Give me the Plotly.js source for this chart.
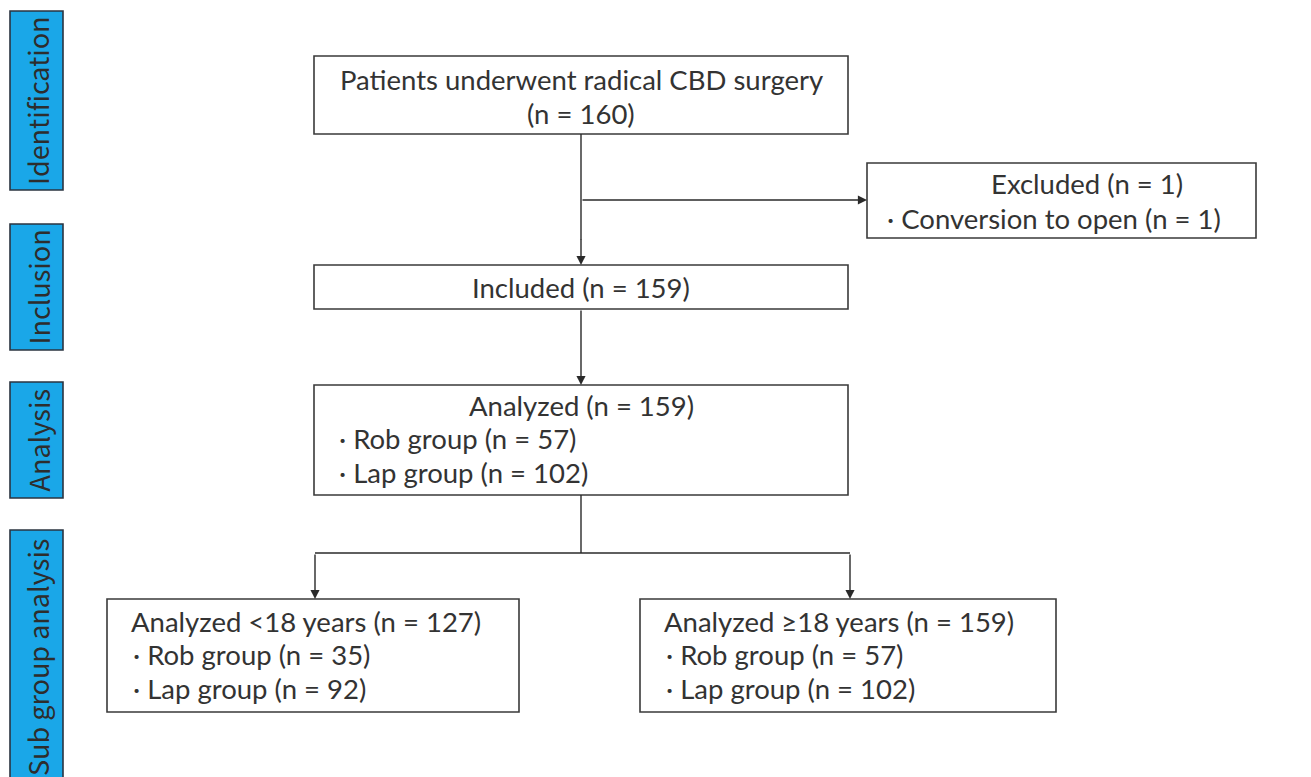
<!DOCTYPE html>
<html>
<head>
<meta charset="utf-8">
<script src="https://cdn.plot.ly/plotly-3.0.1.min.js"></script>
<style>html,body{margin:0;padding:0;background:#fff;}#chart{width:1311px;height:777px;}</style>
</head>
<body>
<div id="chart"></div>
<script>
// ---- content (values) ----
const stageLabels = ["Identification", "Inclusion", "Analysis", "Sub group analysis"];
const totalPatients = 160;
const excludedReasons = ["Conversion to open"];
const excludedCounts = [1];
const includedCount = 159;
const analyzedGroups = ["Rob group", "Lap group"];
const analyzedCounts = [57, 102];
const subgroupTitles = ["Analyzed &lt;18 years", "Analyzed ≥18 years"];
const subgroupTotals = [127, 159];
const subgroupRob = [35, 57];
const subgroupLap = [92, 102];

// ---- layout geometry (pixels) ----
const stageBoxes = [[10, 11, 63, 190], [10, 224, 63, 350], [10, 382, 63, 498], [10, 530, 63, 790]];
const mainX = [314, 848];
const topBox = [56, 134];
const exclBox = [867, 163, 1256, 238];
const inclBox = [265, 309];
const anaBox = [385, 495];
const subBoxes = [[107, 599, 519, 712], [640, 599, 1056, 712]];
const cx = 581;

const FONT = "Lato, Noto Sans, Noto Sans CJK JP, sans-serif";
const SIDEFONT = "Noto Sans CJK JP, Noto Sans, sans-serif";
const TXT = "#333333";
const FS = 27.5;
const shapes = [];
const ann = [];

function rect(x0, y0, x1, y1, fill, lc) {
  shapes.push({type: "rect", xref: "x", yref: "y", x0, y0, x1, y1,
    line: {color: lc || "#3a3a3a", width: 1.6}, fillcolor: fill || "#ffffff", layer: "below"});
}
function line(x0, y0, x1, y1) {
  shapes.push({type: "line", xref: "x", yref: "y", x0, y0, x1, y1, line: {color: "#2a2a2a", width: 1.4}});
}
function arrow(x0, y0, x1, y1) {
  ann.push({x: x1, y: y1, ax: x0, ay: y0, xref: "x", yref: "y", axref: "x", ayref: "y",
    showarrow: true, arrowhead: 2, arrowsize: 1.3, arrowwidth: 1.4, arrowcolor: "#2a2a2a", text: ""});
}
function text(x, y, t, anchor, size, angle, color, family) {
  ann.push({x, y, xref: "x", yref: "y", text: t, showarrow: false,
    xanchor: anchor || "center", yanchor: "middle", align: anchor === "left" ? "left" : "center",
    textangle: angle || 0,
    font: {family: family || FONT, size: size || FS, color: color || TXT}});
}

// stage side labels
stageBoxes.forEach((b, i) => {
  rect(b[0], b[1], b[2], b[3], "#1aa7e8", "#2b3440");
  const yc = i === 3 ? (b[1] + 777) / 2 + 4 : (b[1] + b[3]) / 2;
  text((b[0] + b[2]) / 2 + 1, yc, stageLabels[i], "center", 27, -90, "#2d2d2d", SIDEFONT);
});

// top box
rect(mainX[0], topBox[0], mainX[1], topBox[1]);
text((mainX[0] + mainX[1]) / 2, 79, "Patients underwent radical CBD surgery", "center");
text((mainX[0] + mainX[1]) / 2, 113, "(n = " + totalPatients + ")", "center");

// excluded
rect(exclBox[0], exclBox[1], exclBox[2], exclBox[3]);
const exclTotal = excludedCounts.reduce((a, b) => a + b, 0);
text(1087, 183, "Excluded (n = " + exclTotal + ")", "center");
text(885, 218, "· " + excludedReasons[0] + " (n = " + excludedCounts[0] + ")", "left");

// included
rect(mainX[0], inclBox[0], mainX[1], inclBox[1]);
text((mainX[0] + mainX[1]) / 2, 287, "Included (n = " + includedCount + ")", "center");

// analyzed
rect(mainX[0], anaBox[0], mainX[1], anaBox[1]);
text((mainX[0] + mainX[1]) / 2, 405, "Analyzed (n = " + includedCount + ")", "center");
analyzedGroups.forEach((g, i) => {
  text(337, 438 + i * 34, "· " + g + " (n = " + analyzedCounts[i] + ")", "left");
});

// subgroup boxes
subBoxes.forEach((b, i) => {
  rect(b[0], b[1], b[2], b[3]);
  text(b[0] + 22, 621, subgroupTitles[i] + " (n = " + subgroupTotals[i] + ")", "left");
  text(b[0] + 24, 654.5, "· Rob group (n = " + subgroupRob[i] + ")", "left");
  text(b[0] + 24, 688, "· Lap group (n = " + subgroupLap[i] + ")", "left");
});

// connectors
line(cx, topBox[1], cx, 240);
arrow(cx, 238, cx, inclBox[0]);
arrow(cx, 200, exclBox[0], 200);
arrow(cx, inclBox[1], cx, anaBox[0]);
line(cx, anaBox[1], cx, 553);
line(315, 553, 850, 553);
arrow(315, 553, 315, subBoxes[0][1]);
arrow(850, 553, 850, subBoxes[1][1]);

const layout = {
  width: 1311, height: 777,
  margin: {l: 0, r: 0, t: 0, b: 0},
  paper_bgcolor: "#ffffff", plot_bgcolor: "#ffffff",
  xaxis: {range: [0, 1311], visible: false, fixedrange: true},
  yaxis: {range: [777, 0], visible: false, fixedrange: true},
  shapes, annotations: ann, showlegend: false
};
Plotly.newPlot("chart", [], layout, {displayModeBar: false, staticPlot: true});
</script>
</body>
</html>
